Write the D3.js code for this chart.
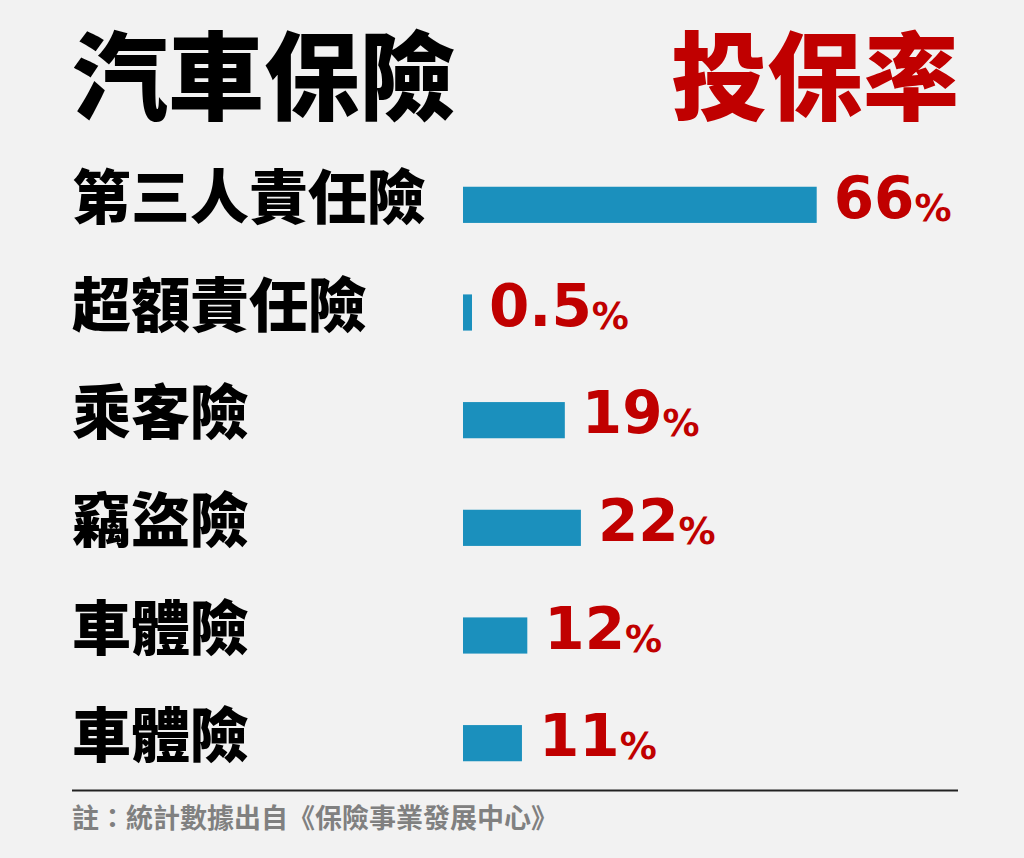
<!DOCTYPE html>
<html>
<head>
<meta charset="utf-8">
<script src="https://cdn.jsdelivr.net/npm/d3@7/dist/d3.min.js"></script>
<style>
  html, body { margin: 0; padding: 0; background: #f2f2f2; }
  svg { display: block; }
</style>
</head>
<body>
<svg id="chart" width="1024" height="858"></svg>
<script>
const titleLeft = "汽車保險";
const titleRight = "投保率";
const categories = ["第三人責任險", "超額責任險", "乘客險", "竊盜險", "車體險", "車體險"];
const values = [66, 0.5, 19, 22, 12, 11];
const valueLabels = ["66", "0.5", "19", "22", "12", "11"];
const unit = "%";
const footnote = "註：統計數據出自《保險事業發展中心》";

const W = 1024, H = 858;
const cjk = "'Noto Sans CJK TC', 'Noto Sans CJK SC', sans-serif";
const num = "'DejaVu Sans', Verdana, sans-serif";
const barColor = "#1b90bd";
const red = "#c00000";

const svg = d3.select("#chart");
svg.append("rect").attr("width", W).attr("height", H).attr("fill", "#f2f2f2");

// Titles
svg.append("text")
  .attr("x", 72).attr("y", 112)
  .attr("font-family", cjk).attr("font-weight", 900).attr("font-size", 96)
  .attr("fill", "#000").text(titleLeft);
svg.append("text")
  .attr("x", 959).attr("y", 112).attr("text-anchor", "end")
  .attr("font-family", cjk).attr("font-weight", 900).attr("font-size", 96)
  .attr("fill", red).text(titleRight);

// Scales
const x = d3.scaleLinear().domain([0, 66]).range([463, 816.7]);
const y = d3.scaleBand().domain(d3.range(categories.length))
  .range([151, 797]).paddingInner(0.664).paddingOuter(0.332);

const rows = svg.append("g").selectAll("g")
  .data(values.map((v, i) => ({ v, i, cat: categories[i], lab: valueLabels[i] })))
  .join("g");

rows.append("text")
  .attr("x", 72)
  .attr("y", d => y(d.i) + y.bandwidth() / 2 + 14)
  .attr("font-family", cjk).attr("font-weight", 900).attr("font-size", 59)
  .attr("fill", "#000")
  .text(d => d.cat);

const barW = d => Math.max(x(d.v) - x(0), 9);

rows.append("rect")
  .attr("x", x(0))
  .attr("y", d => y(d.i))
  .attr("width", barW)
  .attr("height", y.bandwidth())
  .attr("fill", barColor);

const vt = rows.append("text")
  .attr("x", d => x(0) + barW(d) + 17)
  .attr("y", d => y(d.i) + y.bandwidth() - 5)
  .attr("font-family", num).attr("font-weight", "bold")
  .attr("fill", red);
vt.append("tspan").attr("font-size", 58).text(d => d.lab);
vt.append("tspan").attr("font-size", 37).attr("dx", 0).attr("dy", 3).text(unit);

// Separator line
svg.append("line")
  .attr("x1", 72).attr("x2", 958)
  .attr("y1", 790.5).attr("y2", 790.5)
  .attr("stroke", "#222").attr("stroke-width", 2);

svg.append("text")
  .attr("x", 72).attr("y", 828)
  .attr("font-family", cjk).attr("font-weight", 700).attr("font-size", 27)
  .attr("fill", "#808080")
  .text(footnote);
</script>
</body>
</html>
